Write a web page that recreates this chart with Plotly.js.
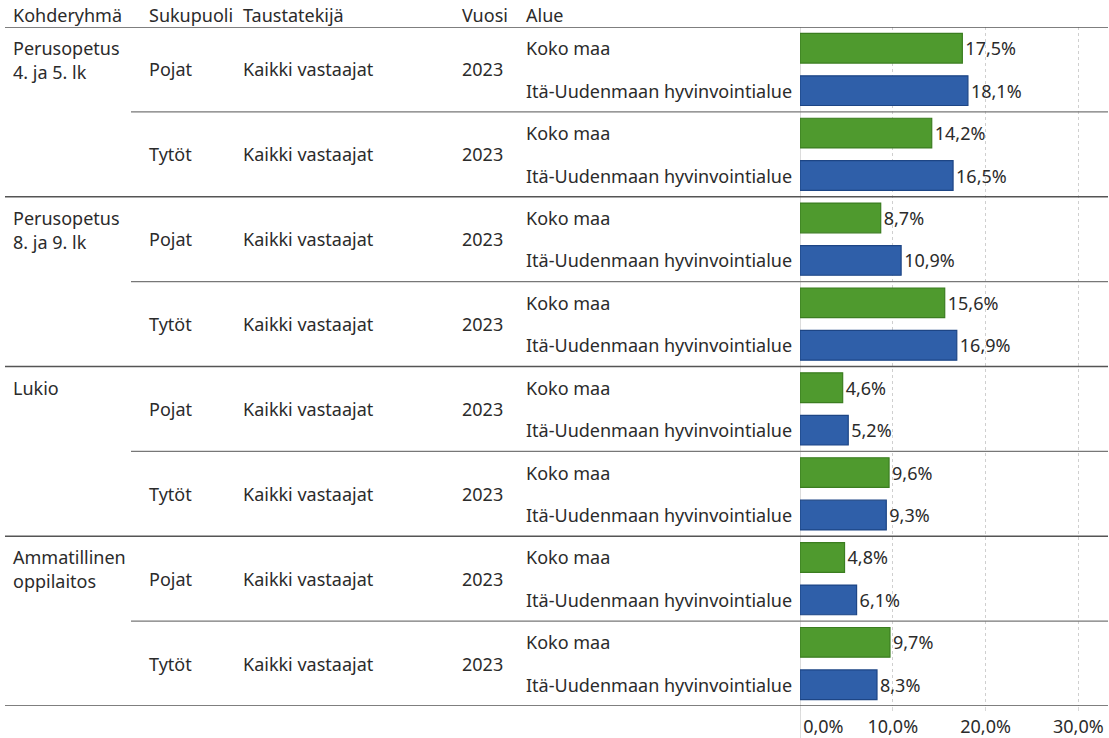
<!DOCTYPE html>
<html>
<head>
<meta charset="utf-8">
<script src="https://cdn.plot.ly/plotly-3.0.1.min.js"></script>
<style>html,body{margin:0;padding:0;background:#fff;} #chart{width:1109px;height:738px;}</style>
</head>
<body>
<div id="chart"></div>
<script>
// ---- data ----
const headers = ["Kohderyhmä", "Sukupuoli", "Taustatekijä", "Vuosi", "Alue"];
const groups = [["Perusopetus", "4. ja 5. lk"], ["Perusopetus", "8. ja 9. lk"], ["Lukio"], ["Ammatillinen", "oppilaitos"]];
const sexes = ["Pojat", "Tytöt"];
const background = "Kaikki vastaajat";
const year = "2023";
const regions = ["Koko maa", "Itä-Uudenmaan hyvinvointialue"];
const kokoMaa = [17.5, 14.2, 8.7, 15.6, 4.6, 9.6, 4.8, 9.7];
const itaUusimaa = [18.1, 16.5, 10.9, 16.9, 5.2, 9.3, 6.1, 8.3];
const xTicks = [0, 10, 20, 30];

// ---- layout helpers ----
const W = 1109, H = 738;
const mTop = 27, mBottom = 32;
const plotH = H - mTop - mBottom;
const nRows = kokoMaa.length * 2;
const rowH = plotH / nRows;
const px = p => p / W;
const dy = p => p / rowH;
const FONT = "Noto Sans, sans-serif";
const TXT = "#2b2b2b";
const FS = 18;
const fmt = v => v.toFixed(1).replace(".", ",") + "%";
// first tick label sits to the right of the zero line, as in the original
const tickLabel = (v, i) => (i === 0 ? "\u00a0".repeat(10) : "") + fmt(v);

const yK = kokoMaa.map((_, i) => 2 * i);
const yI = itaUusimaa.map((_, i) => 2 * i + 1);

const traces = [
  {
    type: "bar", orientation: "h", x: kokoMaa, y: yK, width: 0.7,
    marker: {color: "#4f9a2e", line: {color: "#3b7d20", width: 1.2}},
    text: kokoMaa.map(fmt), textposition: "outside", cliponaxis: false,
    textfont: {family: FONT, size: FS, color: TXT}, hoverinfo: "x", showlegend: false
  },
  {
    type: "bar", orientation: "h", x: itaUusimaa, y: yI, width: 0.7,
    marker: {color: "#2f5fa9", line: {color: "#1d4585", width: 1.2}},
    text: itaUusimaa.map(fmt), textposition: "outside", cliponaxis: false,
    textfont: {family: FONT, size: FS, color: TXT}, hoverinfo: "x", showlegend: false
  }
];

const ann = [];
const colX = [11, 147, 241, 460, 524];
headers.forEach((h, i) => ann.push({text: h, x: px(colX[i]), xref: "paper", y: 1 + 12 / plotH, yref: "paper",
  xanchor: "left", yanchor: "middle", showarrow: false, font: {family: FONT, size: FS, color: TXT}}));

groups.forEach((lines, g) => {
  lines.forEach((t, j) => ann.push({text: t, x: px(colX[0]), xref: "paper", y: 4 * g + dy(24) * j, yref: "y",
    xanchor: "left", yanchor: "middle", showarrow: false, font: {family: FONT, size: FS, color: TXT}}));
  sexes.forEach((s, k) => {
    const yc = 4 * g + 2 * k + 0.5;
    ann.push({text: s, x: px(colX[1]), xref: "paper", y: yc, yref: "y", xanchor: "left", yanchor: "middle",
      showarrow: false, font: {family: FONT, size: FS, color: TXT}});
    ann.push({text: background, x: px(colX[2]), xref: "paper", y: yc, yref: "y", xanchor: "left", yanchor: "middle",
      showarrow: false, font: {family: FONT, size: FS, color: TXT}});
    ann.push({text: year, x: px(colX[3]), xref: "paper", y: yc, yref: "y", xanchor: "left", yanchor: "middle",
      showarrow: false, font: {family: FONT, size: FS, color: TXT}});
    regions.forEach((r, m) => ann.push({text: r, x: px(colX[4]), xref: "paper", y: 4 * g + 2 * k + m, yref: "y",
      xanchor: "left", yanchor: "middle", showarrow: false, font: {family: FONT, size: FS, color: TXT}}));
  });
});

const shapes = [];
for (let b = 0; b <= nRows; b += 2) {
  const full = b % 4 === 0;
  shapes.push({type: "line", xref: "paper", yref: "y", x0: full ? px(5) : px(131), x1: px(1108),
    y0: b - 0.5, y1: b - 0.5, line: {color: full ? "#555555" : "#777777", width: 1.3}, layer: "above"});
}
// zero line extending down through tick area
shapes.push({type: "line", xref: "x", yref: "paper", x0: 0, x1: 0, y0: -mBottom / plotH, y1: 1,
  line: {color: "#d0d0d0", width: 1.5}, layer: "below"});

const layout = {
  width: W, height: H,
  margin: {l: 0, r: 0, t: mTop, b: mBottom, pad: 0},
  paper_bgcolor: "#ffffff", plot_bgcolor: "#ffffff",
  bargap: 0.3,
  xaxis: {
    domain: [px(800), px(1108)], range: [0, 33.2],
    tickmode: "array", tickvals: xTicks, ticktext: xTicks.map(tickLabel),
    showgrid: true, gridcolor: "#cfcfcf", griddash: "dot", gridwidth: 1,
    zeroline: false, showline: false,
    ticks: "outside", ticklen: 4, tickcolor: "#d8d8d8",
    tickfont: {family: FONT, size: FS, color: TXT}, fixedrange: true
  },
  yaxis: {range: [nRows - 0.5, -0.5], showgrid: false, zeroline: false, showticklabels: false, fixedrange: true},
  annotations: ann,
  shapes: shapes,
  font: {family: FONT, color: TXT}
};

Plotly.newPlot("chart", traces, layout, {displayModeBar: false, staticPlot: true});
</script>
</body>
</html>
